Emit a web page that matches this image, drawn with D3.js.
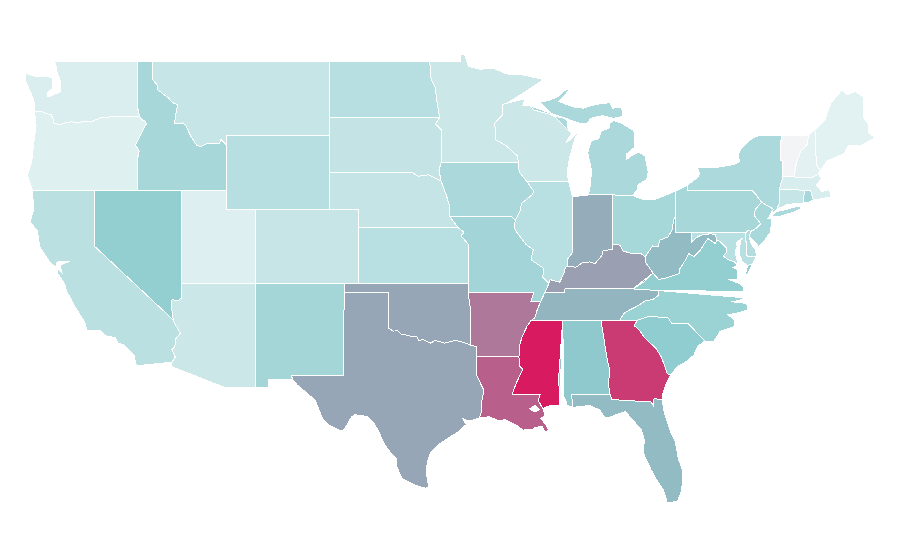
<!DOCTYPE html>
<meta charset="utf-8">
<style>
body { margin: 0; background: #fff; }
.state { stroke: #fff; stroke-width: 1; fill-rule: evenodd; shape-rendering: crispEdges; }
</style>
<body>
<script src="https://d3js.org/d3.v7.min.js"></script>
<script>
// state values
const stateNames = ["WA","OR","CA","NV","ID","MT","WY","UT","AZ","CO","NM","ND","SD","NE","KS","OK","TX","MN","IA","MO","AR","LA","WI","IL","MI","IN","OH","KY","TN","MS","AL","GA","FL","SC","NC","VA","WV","PA","NY","NJ","DE","MD","CT","RI","MA","VT","NH","ME"];
const stateValues = [11.5,9.5,27.5,47.5,37,22,29.5,10.5,19.5,21.5,39,29.5,23.5,22.5,29,61,61,19.5,35.5,39.5,73.9,80.6,19.5,29,35.5,59,38,62.7,56.6,100,51,91.3,55,49,43.5,47.5,55,37,35,36.5,32,29,22,37,13,0,7.5,8];
const colorStops = [0, 8, 50, 61, 100];
const colorRange = ["#f2f4f5", "#e2f1f2", "#8ecccf", "#97a6b6", "#d81b60"];

// shared borders, "lon,lat" in order
const seg = {
  columbia: "-124.05,46.27 -123.55,46.26 -123.2,46.15 -122.9,46.08 -122.8,45.85 -122.75,45.65 -122.3,45.55 -121.9,45.68 -121.5,45.72 -121.2,45.65 -120.65,45.74 -120.2,45.72 -119.6,45.92 -119,45.95 -118.98,46 -116.92,46",
  snake: "-116.92,46 -116.78,45.83 -116.55,45.75 -116.46,45.6 -116.67,45.32 -116.85,45 -117.2,44.45 -117.03,44.25 -116.95,44.1 -117.03,43.83 -117.03,42",
  idmt: "-116.05,49 -116.05,48 -115.72,47.7 -115.7,47.45 -114.95,47 -114.7,46.75 -114.33,46.65 -114.45,46.2 -114.55,45.6 -114.0,45.65 -113.8,45.52 -113.45,44.95 -113.05,44.45 -112.8,44.37 -112.3,44.55 -111.5,44.55 -111.4,44.75 -111.05,44.48",
  nvaz: "-114.05,37 -114.05,36.2 -114.3,36.05 -114.72,36.1 -114.74,35.6 -114.63,35",
  caaz: "-114.63,35 -114.57,34.85 -114.15,34.3 -114.45,34 -114.53,33.55 -114.72,33.4 -114.5,33 -114.72,32.72",
  mnwi: "-92.01,46.71 -92.29,46.66 -92.29,46.08 -92.87,45.6 -92.75,45.3 -92.75,44.75 -92,44.4 -91.25,43.85 -91.22,43.5",
  iawi: "-91.22,43.5 -91.15,43 -90.65,42.5",
  iail: "-90.65,42.5 -90.15,41.95 -90.3,41.75 -91,41.3 -91.1,40.9 -91.42,40.38",
  moil: "-91.42,40.38 -91.5,40 -91.37,39.8 -90.7,39.1 -90.2,38.8 -90.35,38.25 -89.5,37.8 -89.55,37.3 -89.13,36.98",
  moky: "-89.13,36.98 -89.4,36.5",
  motn: "-89.4,36.5 -89.55,36.25 -89.7,36",
  artn: "-89.7,36 -89.95,35.5 -90.1,35.1 -90.3,35",
  arms: "-90.3,35 -90.6,34.7 -90.95,34.1 -91.1,33.7 -91.17,33",
  lams: "-91.17,33 -91.1,32.5 -90.9,32.33 -91.35,31.6 -91.62,31 -89.73,31 -89.85,30.65 -89.55,30.2",
  ilky: "-89.13,36.98 -89.05,37.18 -88.4,37.05 -88.1,37.55 -88.03,37.8",
  inky: "-88.03,37.8 -87.9,37.92 -87.3,37.85 -86.89,38.08 -86.34,38.14 -86,38.05 -85.53,38.5 -85.46,38.73 -84.85,38.82 -84.82,39.1",
  ohky: "-84.82,39.1 -84.31,39.05 -84.1,38.73 -83.63,38.62 -82.95,38.62 -82.6,38.42",
  ohwv: "-82.6,38.42 -82.1,39 -81.73,38.95 -81.6,39.32 -81.05,39.49 -80.78,39.86 -80.65,40.45 -80.52,40.64",
  kywv: "-82.6,38.42 -82.54,38.08 -82.07,37.54",
  kyva: "-82.07,37.54 -82.7,37.05 -83.43,36.68",
  kytn: "-83.43,36.68 -86.5,36.68 -88.04,36.68 -88.07,36.51 -89.4,36.5",
  tnva: "-83.43,36.68 -81.67,36.59",
  nemo: "-96.45,42.5 -96.1,41.75 -95.9,41.2 -95.85,40.58",
  nemr: "-95.85,40.58 -95.31,40",
  ksmo: "-95.31,40 -94.9,39.75 -95.1,39.55 -94.61,39.1 -94.61,37",
  nesd: "-104.05,43 -98.5,43 -98,42.77 -97.3,42.85 -96.45,42.5",
  iasd: "-96.45,42.5 -96.6,43.1 -96.45,43.5",
  ndmn: "-97.23,49 -97.13,48 -96.85,47.55 -96.75,46.9 -96.56,45.93",
  sdmn: "-96.56,45.93 -96.85,45.6 -96.45,45.3 -96.45,43.5",
  txok: "-100,36.5 -100,34.56 -99.7,34.4 -99.4,34.42 -99.2,34.25 -98.9,34.2 -98.5,34.12 -98.1,34.1 -97.95,33.88 -97.7,33.95 -97.15,33.75 -96.9,33.88 -96.6,33.85 -96.2,33.75 -95.5,33.9 -94.9,33.78 -94.48,33.65",
  latx: "-94.04,33.02 -94.04,32 -93.55,31.2 -93.7,30.6 -93.7,30.1 -93.85,29.7",
  msal: "-88.4,30.37 -88.47,31.9 -88.2,35",
  alfl: "-87.52,30.28 -87.6,31 -85,31",
  alga: "-85,31 -85.1,31.55 -85,32.3 -85.18,32.87 -85.6,34.98",
  gafl: "-85,31 -84.86,30.7 -82.2,30.57 -82.05,30.36 -82,30.75 -81.45,30.7",
  gasc: "-83.11,35 -83.35,34.7 -83,34.45 -82.6,34 -81.9,33.5 -81.5,33 -81.1,32.1 -80.87,32.03",
  ncsc: "-78.55,33.86 -79.67,34.8 -80.8,34.82 -81.05,35.12 -82.3,35.2 -83.11,35",
  ncva: "-75.9,36.55 -81.67,36.59",
  nctn: "-81.67,36.59 -81.7,36.33 -82.05,36.12 -82.6,36.03 -83.1,35.77 -84,35.4 -84.32,35",
  vawv: "-82.07,37.54 -81.7,37.2 -81.25,37.25 -80.3,37.5 -80.3,37.7 -79.9,38.2 -79.65,38.6 -79.3,38.42 -78.87,38.77 -78.35,39.4 -77.83,39.13 -77.72,39.32",
  vamd: "-77.72,39.32 -77.45,39.2 -77.1,38.9 -77.05,38.7 -77.3,38.45 -76.95,38.25 -76.55,38.15 -76.3,37.95",
  mdwv: "-79.48,39.72 -79.48,39.2 -79.1,39.47 -78.75,39.6 -78.4,39.62 -78.2,39.68 -77.85,39.6 -77.72,39.32",
  panj: "-74.7,41.36 -75.13,40.98 -75.2,40.65 -74.75,40.2 -75.15,39.9 -75.42,39.8",
  nynj: "-74.7,41.36 -73.9,41",
  nypa: "-79.76,42.27 -79.76,42 -75.35,42 -75.05,41.75 -74.7,41.36",
  nyvt: "-73.35,45 -73.4,44.5 -73.4,43.6 -73.27,43.6 -73.25,42.75",
  nyma: "-73.25,42.75 -73.5,42.05",
  nyct: "-73.5,42.05 -73.5,41.3 -73.65,41",
  vtnh: "-71.5,45 -71.6,44.5 -72.05,44.1 -72.3,43.6 -72.45,43 -72.46,42.73",
  mimain: "-86.45,41.76 -84.8,41.76",
  miup: "-87.6,45.1 -87.85,45.4 -87.85,45.75 -88.1,45.9 -88.8,46.02 -89.1,46.13 -90.12,46.34 -90.42,46.57",
  nhme: "-71.08,45.3 -70.98,43.4 -70.7,43.07"
};
const pts = s => s.trim().split(/\s+/).map(p => p.split(",").map(Number));
// a ring is a list of border names ("-" reads it backwards) and raw "lon,lat" runs
const ring = (...parts) => {
  const r = parts.flatMap(p => {
    if (seg[p]) return pts(seg[p]);
    if (p[0] === "-" && seg[p.slice(1)]) return pts(seg[p.slice(1)]).reverse();
    return pts(p);
  });
  r.push(r[0]); // geoPath wants closed rings
  return r;
};

const stateShapes = {
  WA: [[ring("-122.73,49 -117.03,49 -117.04,46.42 -116.92,46", "-columbia", "-124.1,46.9 -124.65,47.9 -124.7,48.35 -124,48.17 -123.1,48.15 -122.8,48.08 -122.8,47.54 -123.2,47.27 -123.14,47.05 -122.32,47.32 -122.32,47.97 -122.53,48.4 -122.6,48.75")]],
  OR: [[ring("columbia", "snake", "-124.2,42 -124.55,42.85 -124.25,43.5 -124.1,44.6 -123.95,45.5")]],
  CA: [[ring("-124.2,42 -120,42 -120,39", "caaz", "-114.72,32.72 -117.12,32.53 -117.25,32.85 -117.3,33.1 -118,33.65 -118.4,33.75 -118.55,34.03 -119.2,34.15 -119.6,34.42 -120.5,34.45 -120.65,34.9 -121.3,35.7 -121.9,36.6 -122,36.95 -122.5,37.55 -122.5,37.8 -122.19,37.54 -122.32,37.97 -121.65,38.19 -122.53,38.13 -122.55,37.85 -122.95,38.05 -123.7,38.95 -123.85,39.8 -124.35,40.3 -124.1,41")]],
  NV: [[ring("-120,42 -114.05,42", "nvaz", "-120,39")]],
  ID: [[ring("-117.03,49 -116.05,49", "idmt", "-111.05,42 -117.03,42", "-snake", "-117.04,46.42")]],
  MT: [[ring("-116.05,49 -104.05,49 -104.05,45 -111.05,45", "-idmt")]],
  WY: [[ring("-111.05,45 -104.05,45 -104.05,41 -111.05,41")]],
  UT: [[ring("-114.05,42 -111.05,42 -111.05,41 -109.05,41 -109.05,37 -114.05,37")]],
  AZ: [[ring("-114.05,37 -109.05,37 -109.05,31.33 -111.07,31.33 -114.8,32.5 -114.72,32.72", "-caaz", "-nvaz")]],
  CO: [[ring("-109.05,41 -102.05,41 -102.05,37 -109.05,37")]],
  NM: [[ring("-109.05,37 -103,37 -103.04,36.5 -103.06,32 -106.62,32 -106.53,31.78 -108.2,31.78 -108.2,31.33 -109.05,31.33")]],
  ND: [[ring("-104.05,49", "ndmn", "-104.05,45.94")]],
  SD: [[ring("-104.05,45.94", "sdmn", "-iasd", "-nesd")]],
  NE: [[ring("nesd", "nemo", "nemr", "-102.05,40 -102.05,41 -104.05,41")]],
  KS: [[ring("-102.05,40", "ksmo", "-102.05,37")]],
  OK: [[ring("-103,37 -94.61,37 -94.62,36.5 -94.43,35.4", "-txok", "-103,36.5")]],
  TX: [[ring("-103.04,36.5", "txok", "-94.04,33.55", "latx", "-94.35,29.58 -94.72,29.55 -95,29.7 -94.75,29.35 -95.2,29 -95.9,28.65 -96.4,28.4 -96.85,28.1 -97.15,27.85 -97.4,27.3 -97.45,26.7 -97.3,25.98 -97.5,25.9 -98.3,26.1 -99.1,26.42 -99.45,27.05 -99.5,27.5 -99.8,27.75 -100.3,28.28 -100.65,28.9 -100.95,29.35 -101.45,29.78 -102.3,29.88 -102.55,29.75 -102.85,29.3 -103.15,28.98 -104.05,29.3 -104.5,29.65 -104.7,30.05 -105,30.65 -105.6,31.08 -106.2,31.47 -106.53,31.78 -106.62,32 -103.06,32")]],
  MN: [[ring("-97.23,49 -95.15,49 -95.15,49.38 -94.85,49.33 -94.6,48.72 -93.8,48.55 -92.95,48.62 -92,48.3 -90.85,48.24 -89.5,48 -90.8,47.3", "mnwi", "-sdmn", "-ndmn")]],
  IA: [[ring("iasd", "-91.22,43.5", "iawi", "iail", "-91.7,40.6", "-nemo")]],
  MO: [[ring("-95.85,40.58 -91.7,40.6", "moil", "moky", "motn", "-90.37,36 -90.15,36.5 -94.62,36.5", "-ksmo", "-nemr")]],
  AR: [[ring("-94.62,36.5 -90.15,36.5 -90.37,36", "artn", "arms", "-94.04,33.02 -94.04,33.55 -94.48,33.65 -94.43,35.4")]],
  LA: [[ring("-94.04,33.02", "lams", "-89.45,30 -89.4,29.8 -89.7,29.7 -89.4,29.4 -89.15,29.05 -89.4,28.95 -89.6,29.25 -90.05,29.2 -90.2,29.1 -90.9,29.05 -91.3,29.3 -91.8,29.5 -92.1,29.6 -92.6,29.58 -93.2,29.77", "-latx"),
        ring("-90.45,30.2 -90.1,30.38 -89.75,30.15 -90.1,30.03")]],
  WI: [[ring("-92.01,46.71 -91.2,46.87 -90.75,46.95 -90.9,46.6", "-miup", "-88,44.55 -87.5,44.9 -87.05,45.25 -87.35,44.85 -87.55,44.3 -87.75,43.7 -87.9,43 -87.8,42.5 -90.65,42.5", "-iawi", "-mnwi")]],
  IL: [[ring("-87.8,42.5 -87.6,41.85 -87.52,41.65 -87.55,39.86 -87.55,38.95 -87.5,38.7 -87.9,38.25 -87.9,37.92 -88.03,37.8", "-ilky", "-moil", "-iail")]],
  MI: [[ring("mimain", "-83.45,41.73 -83.15,42.05 -83.1,42.3 -82.5,42.6 -82.4,43 -82.6,43.85 -83,44.07 -83.4,43.95 -83.9,43.65 -83.9,43.95 -83.3,44.35 -83.3,45 -83.4,45.25 -84.2,45.63 -84.75,45.78 -85.05,45.6 -85,45.4 -85.6,45.2 -85.75,44.8 -86.25,44.7 -86.5,44.05 -86.25,43.1 -86.3,42.4")],
       [ring("-miup", "-89.8,46.8 -89.2,46.85 -88.45,47.1 -88,47.45 -87.75,47.45 -88.2,47 -88.45,46.8 -87.4,46.5 -86.8,46.45 -86,46.65 -85,46.75 -84.8,46.45 -84.2,46.5 -84.1,46 -84.75,45.9 -85.5,46.05 -86.3,45.9 -86.55,45.6 -87.1,45.65")],
       [ring("-88.95,47.93 -88.45,48.15 -88.5,48.05")]],
  IN: [[ring("-87.52,41.65 -87.1,41.7", "mimain", "-84.82,39.1", "-inky", "-87.9,37.92 -87.9,38.25 -87.5,38.7 -87.55,38.95 -87.55,39.86")]],
  OH: [[ring("-84.8,41.76 -83.45,41.73 -82.7,41.5 -82,41.5 -81.2,41.75 -80.52,41.98 -80.52,40.64", "-ohwv", "-ohky")]],
  KY: [[ring("ilky", "inky", "ohky", "kywv", "kyva", "kytn", "-moky")]],
  TN: [[ring("tnva", "nctn", "-90.3,35", "-artn", "-motn", "-kytn")]],
  MS: [[ring("-90.3,35 -88.2,35", "-msal", "-88.9,30.4 -89.3,30.3", "-lams", "-arms")]],
  AL: [[ring("-88.2,35 -85.6,34.98", "-alga", "-alfl", "-87.9,30.4 -88,30.7 -88.1,30.35", "-msal")]],
  GA: [[ring("-85.6,34.98 -84.32,35 -83.11,35", "gasc", "-81.2,31.5 -81.4,31 -81.45,30.7", "-gafl", "alga")]],
  FL: [[ring("gafl", "-81.3,30 -80.9,29 -80.55,28.4 -80.35,27.5 -80.03,26.8 -80.12,25.8 -80.4,25.2 -81.1,25.12 -81.35,25.8 -81.85,26.4 -82.2,26.9 -82.75,27.85 -82.65,28.5 -82.85,29.05 -83.4,29.55 -83.95,30.05 -84.35,29.95 -85,29.75 -85.35,29.75 -85.7,30.15 -86.4,30.38 -87.52,30.28", "alfl")]],
  SC: [[ring("-gasc", "-ncsc", "-79,33.6 -79.3,33.1 -79.9,32.7 -80.4,32.5")]],
  NC: [[ring("-ncva", "nctn", "-83.11,35", "-ncsc", "-77.95,33.85 -77.5,34.4 -76.5,34.65 -76.55,35 -77,35.3 -76.45,35.35 -75.65,35.55 -75.7,35.9 -76.4,35.95 -76.75,36 -76.2,36.05 -75.85,36.2")]],
  VA: [[ring("-kyva", "tnva", "-ncva", "-75.97,36.85 -76.3,37 -76.95,37.2 -76.35,37.2 -76.3,37.7 -76.65,37.85", "-vamd", "-vawv")],
       [ring("-75.85,37.3 -75.6,37.55 -75.3,38.03 -75.65,37.95")]],
  WV: [[ring("-80.52,40.64 -80.52,39.72", "mdwv", "-vawv", "-kywv", "ohwv")]],
  PA: [[ring("-80.52,41.98", "nypa", "panj", "-75.6,39.84 -75.79,39.72 -80.52,39.72")]],
  NY: [[ring("-79.76,42.27 -79.05,42.7 -78.9,42.9 -79.05,43.27 -77.6,43.27 -76.6,43.4 -76.2,43.55 -76.3,43.95 -76.05,44.3 -75.3,44.85 -74.7,45", "nyvt", "nyma", "nyct", "-73.9,40.8 -74,40.7 -73.9,41", "-nynj", "-nypa")],
       [ring("-74.03,40.6 -73.75,40.85 -73,40.97 -72.3,41.15 -71.87,41.07 -72.5,40.83 -73.5,40.6")]],
  NJ: [[ring("nynj", "-74.1,40.7 -74.25,40.5 -74,40.45 -74.1,39.75 -74.4,39.4 -74.9,38.95 -75.1,39.2 -75.55,39.5 -75.42,39.8", "-panj")]],
  DE: [[ring("-75.42,39.8 -75.6,39.84 -75.79,39.72 -75.7,38.46 -75.05,38.45 -75.1,38.8 -75.4,39.1 -75.55,39.5")]],
  MD: [[ring("mdwv", "vamd", "-76.35,38.2 -76.5,38.68 -76.36,38.95 -76.4,39.2 -75.95,39.45 -76.1,39.35 -76.2,38.9 -76.2,38.55 -76,38.15 -75.65,37.95 -75.3,38.03 -75.05,38.45 -75.7,38.46 -75.79,39.72")]],
  CT: [[ring("-nyct", "-71.8,42.02 -71.85,41.32 -72.9,41.25")]],
  RI: [[ring("-71.8,42.02 -71.38,42.02 -71.2,41.5 -71.5,41.37 -71.85,41.32")]],
  MA: [[ring("-nyma", "-72.46,42.73 -71.3,42.7 -70.85,42.87 -70.6,42.65 -71,42.3 -70.6,41.95 -70.1,42.05 -70,41.8 -70,41.65 -70.65,41.55 -71.15,41.5 -71.2,41.5 -71.38,42.02 -71.8,42.02")]],
  VT: [[ring("-73.35,45", "vtnh", "-nyvt")]],
  NH: [[ring("-71.5,45", "nhme", "-70.85,42.87 -71.3,42.7", "-vtnh")]],
  ME: [[ring("-71.08,45.3 -70.4,45.8 -70.25,46.2 -70,46.7 -69.23,47.46 -68.9,47.18 -68.35,47.35 -67.8,47.07 -67.78,45.95 -67.45,45.6 -67.45,45.15 -67,44.85 -68,44.4 -68.8,44.45 -69.1,44 -69.8,43.75 -70.25,43.6", "-nhme")]]
};

const width = 900, height = 560;

const x = d3.scaleLinear().domain([-124.7, -67]).range([25, 875]);
const y = d3.scaleLinear().domain([49, 25.12]).range([61, 502.8]);
const color = d3.scaleLinear().domain(colorStops).range(colorRange);

const path = d3.geoPath(d3.geoTransform({
  point: function(lon, lat) { this.stream.point(x(lon), y(lat)); }
}));

const states = stateNames.map((name, i) => ({
  type: "Feature",
  id: name,
  properties: { value: stateValues[i] },
  geometry: { type: "MultiPolygon", coordinates: stateShapes[name] }
}));

const svg = d3.select("body").append("svg")
    .attr("width", width)
    .attr("height", height);

svg.selectAll(".state")
    .data(states)
  .enter().append("path")
    .attr("class", "state")
    .attr("d", path)
    .attr("fill", d => color(d.properties.value));
</script>
</body>
